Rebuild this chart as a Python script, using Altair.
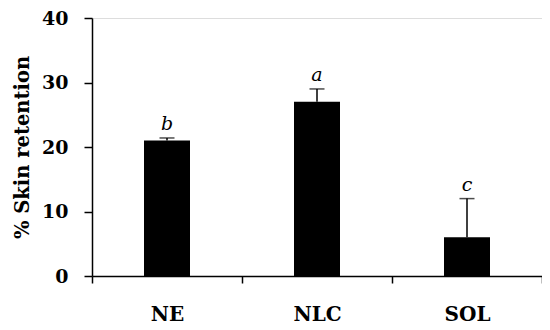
import altair as alt
import pandas as pd

categories = ["NE", "NLC", "SOL"]
values = [21.0, 27.0, 6.0]
errors = [0.4, 2.0, 6.0]
letters = ["b", "a", "c"]

df = pd.DataFrame({
    "cat": categories,
    "val": values,
    "err": errors,
    "top": [v + e for v, e in zip(values, errors)],
    "letter": letters,
})

FONT = "DejaVu Serif"

x = alt.X("cat:N", sort=categories, title=None,
          scale=alt.Scale(paddingInner=0, paddingOuter=0),
          axis=alt.Axis(labelAngle=0, labelFont=FONT, labelFontSize=20,
                        labelFontWeight="bold", labelColor="black",
                        labelPadding=21, tickBand="extent", tickSize=7,
                        tickColor="black", tickWidth=1.5,
                        domainColor="black", domainWidth=1.5))
y_scale = alt.Scale(domain=[0, 40], nice=False)
y = alt.Y("val:Q", scale=y_scale, title="% Skin retention",
          axis=alt.Axis(values=[0, 10, 20, 30, 40], grid=False,
                        labelFont=FONT, labelFontSize=19, labelFontWeight="bold",
                        labelColor="black", labelPadding=16,
                        tickSize=8, tickColor="black", tickWidth=1.5,
                        domainColor="black", domainWidth=1.5,
                        titleFont=FONT, titleFontSize=19.5, titleFontWeight="bold",
                        titleColor="black", titlePadding=9))

bars = alt.Chart(df).mark_bar(size=46, color="black").encode(x=x, y=y)

err_rule = alt.Chart(df).mark_rule(color="black", strokeWidth=1.5).encode(
    x=alt.X("cat:N", sort=categories),
    y=alt.Y("val:Q", scale=y_scale),
    y2="top:Q",
)
caps = alt.Chart(df).mark_tick(color="black", size=15, thickness=1.5).encode(
    x=alt.X("cat:N", sort=categories),
    y=alt.Y("top:Q", scale=y_scale),
)
labels = alt.Chart(df).mark_text(font=FONT, fontSize=19, fontStyle="italic",
                                 color="black", dy=-14).encode(
    x=alt.X("cat:N", sort=categories),
    y=alt.Y("top:Q", scale=y_scale),
    text="letter:N",
)

chart = alt.layer(bars, err_rule, caps, labels).properties(
    width=450, height=258,
    autosize=alt.AutoSizeParams(type="none"),
    padding={"left": 84, "top": 10, "right": 0, "bottom": 54},
).configure_view(stroke=None).configure(background="white")

chart.save("out.html", embed_options={"renderer": "svg", "actions": False})
